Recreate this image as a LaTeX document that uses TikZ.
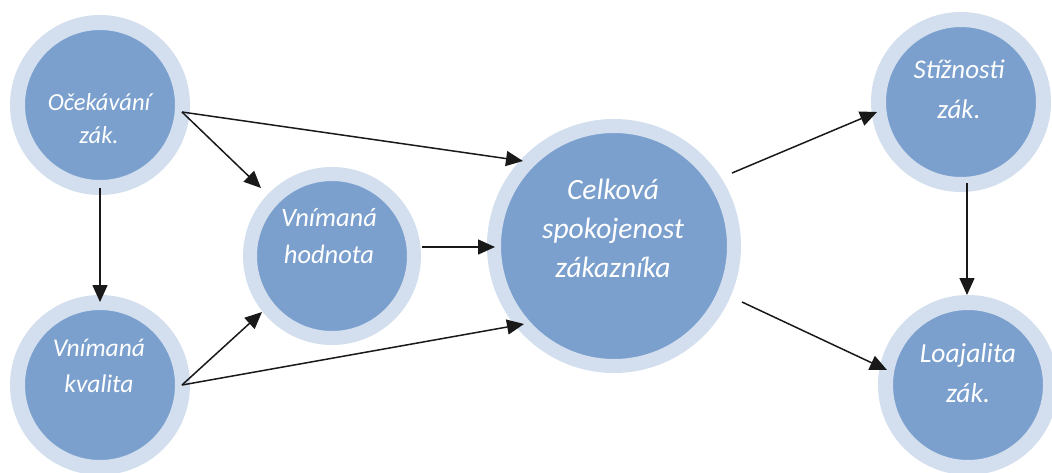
\documentclass[tikz,border=0pt]{standalone}
\usepackage{fontspec}
\setmainfont{Carlito}
\usetikzlibrary{arrows.meta,calc}
\definecolor{discfill}{HTML}{7BA0CD}
\definecolor{ringfill}{HTML}{D3DFEE}
\begin{document}
\begin{tikzpicture}[x=1pt,y=-1pt,
  disc/.style={circle,fill=discfill,draw=ringfill,inner sep=0pt,line width=15pt,minimum size=165pt},
  bigdisc/.style={disc,line width=14pt,minimum size=240pt},
  caption/.style={anchor=base,text=white,inner sep=0pt},
  link/.style={line width=1.5pt,draw=black!90,-{Triangle[length=17pt,width=15pt]}}]
\useasboundingbox (0,0) rectangle (1052,472);
\clip (0,0) rectangle (1052,472);

% discs
\node[disc] (n1) at (100,105) {};
\node[disc] (n2) at (100,385) {};
\node[disc,line width=14pt,minimum size=164pt] (n3) at (332,256) {};
\node[bigdisc] (n4) at (614,246) {};
\node[disc] (n5) at (961,102) {};
\node[disc] (n6) at (968,385) {};

% captions
\node[caption,font=\itshape\fontsize{24.5}{33}\selectfont] (t1) at (99,110)
  {\begin{tabular}[t]{@{}c@{}}Očekávání\\zák.\end{tabular}};
\node[caption,font=\itshape\fontsize{25.5}{36}\selectfont] (t2) at (99,356)
  {\begin{tabular}[t]{@{}c@{}}Vnímaná\\kvalita\end{tabular}};
\node[caption,font=\itshape\fontsize{26.5}{37}\selectfont] (t3) at (329,226)
  {\begin{tabular}[t]{@{}c@{}}Vnímaná\\hodnota\end{tabular}};
\node[caption,font=\itshape\fontsize{29.5}{39}\selectfont] (t4) at (613,199)
  {\begin{tabular}[t]{@{}c@{}}Celková\\spokojenost\\zákazníka\end{tabular}};
\node[caption,font=\itshape\fontsize{27}{40}\selectfont] (t5) at (959,78)
  {\begin{tabular}[t]{@{}c@{}}Stížnosti\\zák.\end{tabular}};
\node[caption,font=\itshape\fontsize{27.5}{40}\selectfont] (t6) at (968,362)
  {\begin{tabular}[t]{@{}c@{}}Loajalita\\zák.\end{tabular}};

% links
\draw[link] ($(n1)+(82,7)$) -- ($(n3)+(-71,-68)$);
\draw[link] ($(n1)+(82,7)$) -- ($(n4)+(-91,-85)$);
\draw[link] ($(n1)+(0,83)$) -- ($(n2)+(0,-83)$);
\draw[link] ($(n2)+(82,0)$) -- ($(n3)+(-70,56)$);
\draw[link] ($(n2)+(82,0)$) -- ($(n4)+(-90,78)$);
\draw[link] ($(n3)+(90,-9)$) -- ($(n4)+(-119,1)$);
\draw[link] ($(n4)+(118,-73)$) -- ($(n5)+(-84,10)$);
\draw[link] ($(n4)+(128,56)$) -- ($(n6)+(-81,-15)$);
\draw[link] ($(n5)+(6,81)$) -- ($(n6)+(-1,-90)$);
\end{tikzpicture}
\end{document}
